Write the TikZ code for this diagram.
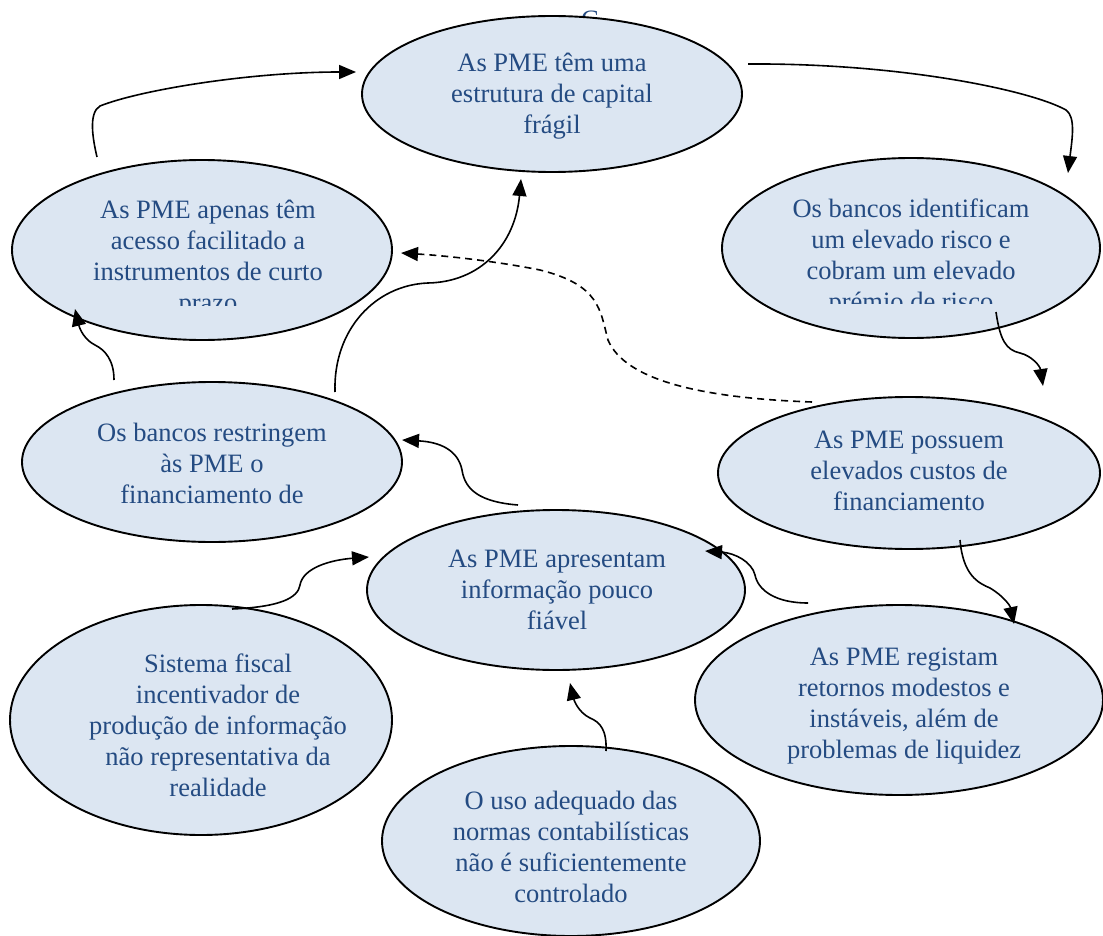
\documentclass[tikz,border=0pt]{standalone}
\usepackage{fontspec}
\setmainfont{Liberation Serif}
\usetikzlibrary{shapes.geometric,arrows.meta}
\definecolor{bubblefill}{RGB}{220,230,242}
\definecolor{bubbletext}{RGB}{36,75,130}
\begin{document}
\begin{tikzpicture}[x=1pt,y=-1pt,
  bubble/.style={ellipse,draw=black,line width=1.9pt,fill=bubblefill,inner sep=0pt},
  label/.style={text=bubbletext,align=center,inner sep=0pt,
    font=\fontsize{26.5}{31}\selectfont},
  link/.style={line width=1.6pt,-{Triangle[length=17pt,width=14pt]}}]
\useasboundingbox (0,0) rectangle (1103,936);

% stray heading letter, mostly hidden behind the top bubble
\node[label,anchor=north] (stray) at (590,11) {C};

% bubbles
\node[bubble,minimum width=380pt,minimum height=156pt] (fragil) at (552,94) {};
\node[bubble,minimum width=380pt,minimum height=180pt] (curto) at (202,250) {};
\node[bubble,minimum width=378pt,minimum height=180pt] (risco) at (911,248) {};
\node[bubble,minimum width=380pt,minimum height=160pt] (restr) at (212,462) {};
\node[bubble,minimum width=382pt,minimum height=152pt] (custos) at (909,473) {};
\node[bubble,minimum width=378pt,minimum height=160pt] (info) at (556,590) {};
\node[bubble,minimum width=382pt,minimum height=230pt] (fiscal) at (201,720) {};
\node[bubble,minimum width=408pt,minimum height=190pt] (retornos) at (899,700) {};
\node[bubble,minimum width=378pt,minimum height=190pt] (normas) at (571,841) {};

% texts
\node[label] (tfragil) at (552,96) {As PME têm uma\\estrutura de capital\\frágil};
\begin{scope}
  \clip (20,170) rectangle (390,305);
  \node[label] (tcurto) at (208,259) {As PME apenas têm\\acesso facilitado a\\instrumentos de curto\\prazo};
\end{scope}
\begin{scope}
  \clip (730,170) rectangle (1095,303);
  \node[label] (trisco) at (911,257) {Os bancos identificam\\um elevado risco e\\cobram um elevado\\prémio de risco};
\end{scope}
\node[label] (trestr) at (212,463) {Os bancos restringem\\às PME o\\financiamento de};
\node[label] (tcustos) at (909,471) {As PME possuem\\elevados custos de\\financiamento};
\node[label] (tinfo) at (557,590) {As PME apresentam\\informação pouco\\fiável};
\node[label] (tfiscal) at (218,725) {Sistema fiscal\\incentivador de\\produção de informação\\não representativa da\\realidade};
\node[label] (tretornos) at (904,706) {As PME registam\\retornos modestos e\\instáveis, além de\\problemas de liquidez};
\node[label] (tnormas) at (571,847) {O uso adequado das\\normas contabilísticas\\não é suficientemente\\controlado};

% connector end points
\coordinate (a1) at (97,157);   \coordinate (a2) at (356,72);
\coordinate (b1) at (748,64);   \coordinate (b2) at (1068,173);
\coordinate (c1) at (996,312);  \coordinate (c2) at (1043,386);
\coordinate (d1) at (812,402);  \coordinate (d2) at (401,253);
\coordinate (e1) at (335,392);  \coordinate (e2) at (521,179);
\coordinate (f1) at (114,380);  \coordinate (f2) at (75,309);
\coordinate (g1) at (518,505);  \coordinate (g2) at (402,440);
\coordinate (h1) at (960,540);  \coordinate (h2) at (1014,624);
\coordinate (i1) at (808,603);  \coordinate (i2) at (705,551);
\coordinate (j1) at (232,609);  \coordinate (j2) at (369,557);
\coordinate (k1) at (606,751);  \coordinate (k2) at (570,683);

% connectors
\draw[link] (a1) .. controls (93,140) and (88,113) .. (100,106)
  .. controls (140,90) and (250,72) .. (a2);
\draw[link] (b1) .. controls (900,63) and (1030,90) .. (1066,110)
  .. controls (1076,117) and (1072,140) .. (b2);
\draw[link] (c1) .. controls (1000,340) and (1006,350) .. (1020,353)
  .. controls (1032,356) and (1040,366) .. (c2);
\draw[link,dashed,dash pattern=on 7pt off 5pt] (d1) .. controls (700,398) and (625,380) .. (608,340)
  .. controls (600,310) and (600,285) .. (540,270)
  .. controls (500,262) and (450,256) .. (d2);
\draw[link] (e1) .. controls (333,330) and (375,285) .. (428,283)
  .. controls (480,282) and (515,245) .. (e2);
\draw[link] (f1) .. controls (114,360) and (105,350) .. (95,345)
  .. controls (85,340) and (80,330) .. (f2);
\draw[link] (g1) .. controls (480,502) and (465,490) .. (462,470)
  .. controls (458,450) and (440,442) .. (g2);
\draw[link] (h1) .. controls (963,575) and (978,583) .. (990,588)
  .. controls (1002,595) and (1010,605) .. (h2);
\draw[link] (i1) .. controls (775,603) and (758,590) .. (755,575)
  .. controls (752,562) and (735,553) .. (i2);
\draw[link] (j1) .. controls (280,607) and (298,598) .. (300,585)
  .. controls (303,568) and (330,560) .. (j2);
\draw[link] (k1) .. controls (607,730) and (600,722) .. (590,718)
  .. controls (578,712) and (574,700) .. (k2);
\end{tikzpicture}
\end{document}
